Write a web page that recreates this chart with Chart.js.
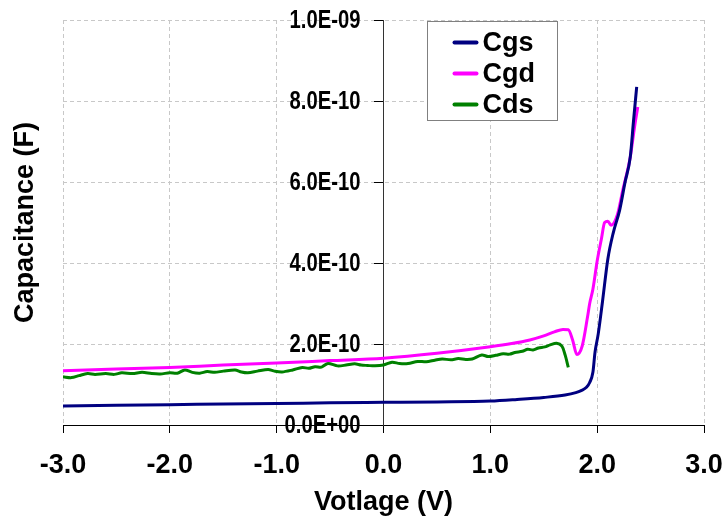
<!DOCTYPE html>
<html lang="en">
<head>
    <meta charset="UTF-8">
    <title>Capacitance vs Voltage</title>
    <script src="https://cdn.jsdelivr.net/npm/chart.js"></script>
    <style>
        html, body { margin: 0; padding: 0; background: #fff; }
        #wrap { width: 722px; height: 525px; }
    </style>
</head>
<body>
    <div id="wrap"><canvas id="myChart" width="722" height="525"></canvas></div>
    <script>
        // values are in units of 1e-10 F
        const UNIT = 1e-10;

        const cgsVolts = [-3.0, -2.5, -2.0, -1.5, -1.0, -0.5, 0.0, 0.5, 1.0, 1.25, 1.5, 1.7, 1.8, 1.85, 1.9, 1.93,
            1.96, 1.98, 2.01, 2.05, 2.10, 2.15, 2.21, 2.26, 2.31, 2.34, 2.37];
        const cgsValues = [0.47, 0.49, 0.50, 0.52, 0.53, 0.55, 0.56, 0.57, 0.59, 0.63, 0.68, 0.74, 0.80, 0.85, 0.93, 1.05,
            1.30, 1.80, 2.25, 3.05, 4.10, 4.74, 5.30, 5.98, 6.62, 7.50, 8.35];

        const cgdVolts = [-3.0, -2.5, -2.0, -1.5, -1.0, -0.5, 0.0, 0.5, 1.0, 1.2, 1.37, 1.5, 1.6, 1.68, 1.73, 1.77,
            1.81, 1.86, 1.91, 1.93, 1.96, 2.0, 2.04, 2.07, 2.1, 2.13, 2.19, 2.24, 2.31, 2.35, 2.38];
        const cgdValues = [1.34, 1.38, 1.42, 1.48, 1.53, 1.59, 1.65, 1.77, 1.93, 2.01, 2.10, 2.20, 2.30, 2.36, 2.35, 2.10,
            1.74, 1.95, 2.67, 3.00, 3.35, 4.05, 4.60, 5.00, 5.03, 4.93, 5.20, 5.80, 6.62, 7.36, 7.85];

        const cdsVolts = [-3.0, -2.92, -2.85, -2.77, -2.7, -2.6, -2.52, -2.45, -2.35, -2.26, -2.17, -2.09, -2.0, -1.93,
            -1.86, -1.79, -1.72, -1.65, -1.58, -1.5, -1.39, -1.33, -1.27, -1.18, -1.08, -1.02, -0.95, -0.85, -0.76,
            -0.7, -0.64, -0.58, -0.52, -0.43, -0.35, -0.27, -0.21, -0.15, -0.08, 0.0, 0.08, 0.15, 0.23, 0.32, 0.4,
            0.48, 0.55, 0.63, 0.7, 0.77, 0.83, 0.92, 0.98, 1.05, 1.12, 1.18, 1.23, 1.3, 1.35, 1.4, 1.45, 1.51, 1.56,
            1.62, 1.67, 1.7, 1.73];
        const cdsValues = [1.19, 1.17, 1.22, 1.27, 1.25, 1.27, 1.25, 1.29, 1.27, 1.30, 1.27, 1.26, 1.29, 1.28,
            1.36, 1.30, 1.28, 1.32, 1.30, 1.33, 1.36, 1.31, 1.29, 1.33, 1.37, 1.33, 1.31, 1.36, 1.42,
            1.40, 1.44, 1.43, 1.52, 1.46, 1.48, 1.51, 1.48, 1.47, 1.46, 1.48, 1.55, 1.52, 1.52, 1.57, 1.56,
            1.60, 1.63, 1.61, 1.64, 1.62, 1.63, 1.73, 1.69, 1.72, 1.76, 1.75, 1.79, 1.82, 1.87, 1.85, 1.90, 1.93, 1.98,
            2.02, 1.95, 1.73, 1.42];

        const seriesNames = ['Cgs', 'Cgd', 'Cds'];
        const seriesColors = ['#000080', '#ff00ff', '#008000'];
        const xTicks = [-3, -2, -1, 0, 1, 2, 3];
        const yTicks = [0, 2, 4, 6, 8, 10];

        const FONT = '"Liberation Sans", Arial, sans-serif';

        function toPoints(xs, ys) {
            return xs.map((x, i) => ({ x: x, y: ys[i] * UNIT }));
        }

        function sciLabel(v) {
            if (Math.abs(v) < 1e-15) return '0.0E+00';
            const parts = Number(v).toExponential(1).split('e');
            const exp = parseInt(parts[1], 10);
            const sign = exp < 0 ? '-' : '+';
            return parts[0] + 'E' + sign + String(Math.abs(exp)).padStart(2, '0');
        }

        // y tick labels sit left of the axis crossing at x = 0, in a condensed bold face
        const yAxisLabels = {
            id: 'yAxisLabels',
            afterDraw(chart) {
                const ctx = chart.ctx;
                const ys = chart.scales.y;
                const axisX = chart.scales.x.getPixelForValue(0);
                ctx.save();
                ctx.font = 'bold 25px ' + FONT;
                ctx.fillStyle = '#000';
                ctx.textAlign = 'right';
                ctx.textBaseline = 'middle';
                ys.ticks.forEach(t => {
                    const y = ys.getPixelForValue(t.value);
                    ctx.save();
                    ctx.translate(axisX - 23, y + 1);
                    ctx.scale(0.81, 1);
                    ctx.fillText(sciLabel(t.value), 0, 0);
                    ctx.restore();
                });
                ctx.restore();
            }
        };

        // legend box drawn inside the plot, over the grid
        const boxLegend = {
            id: 'boxLegend',
            afterDraw(chart) {
                const ctx = chart.ctx;
                const area = chart.chartArea;
                const left = area.left + 364.5, top = area.top + 1.5, w = 130, h = 99;
                ctx.save();
                ctx.fillStyle = '#ffffff';
                ctx.fillRect(left, top, w, h);
                ctx.strokeStyle = '#808080';
                ctx.lineWidth = 1;
                ctx.strokeRect(left, top, w, h);
                ctx.font = 'bold 27px ' + FONT;
                ctx.textBaseline = 'middle';
                ctx.fillStyle = '#000';
                chart.data.datasets.forEach((ds, i) => {
                    const y = top + 21 + i * 31;
                    ctx.strokeStyle = ds.borderColor;
                    ctx.lineWidth = 4;
                    ctx.lineCap = 'round';
                    ctx.beginPath();
                    ctx.moveTo(left + 27, y);
                    ctx.lineTo(left + 49, y);
                    ctx.stroke();
                    ctx.fillText(ds.label, left + 55, y + 1);
                });
                ctx.restore();
            }
        };

        const gridColor = '#c8c8c8';
        const ctx = document.getElementById('myChart').getContext('2d');
        const chart = new Chart(ctx, {
            type: 'line',
            data: {
                datasets: [
                    { label: seriesNames[0], data: toPoints(cgsVolts, cgsValues), borderColor: seriesColors[0],
                      cubicInterpolationMode: 'monotone' },
                    { label: seriesNames[1], data: toPoints(cgdVolts, cgdValues), borderColor: seriesColors[1],
                      cubicInterpolationMode: 'monotone' },
                    { label: seriesNames[2], data: toPoints(cdsVolts, cdsValues), borderColor: seriesColors[2],
                      tension: 0.3 }
                ]
            },
            options: {
                responsive: false,
                animation: false,
                devicePixelRatio: 1,
                layout: { padding: { left: 5, right: 18, top: 20, bottom: 0 } },
                elements: {
                    point: { radius: 0 },
                    line: { borderWidth: 3, fill: false }
                },
                plugins: {
                    legend: { display: false },
                    tooltip: { enabled: false }
                },
                scales: {
                    x: {
                        type: 'linear',
                        position: 'bottom',
                        min: -3, max: 3,
                        afterBuildTicks: s => { s.ticks = xTicks.map(v => ({ value: v })); },
                        afterFit: s => { s.height = 100; s.paddingLeft = 0; s.paddingRight = 0; },
                        ticks: {
                            callback: v => Number(v).toFixed(1),
                            font: { family: FONT, size: 27, weight: 'bold' },
                            color: '#000',
                            padding: 16,
                            maxRotation: 0
                        },
                        grid: {
                            color: gridColor,
                            tickColor: '#000',
                            tickBorderDash: [],
                            tickLength: 8,
                            tickWidth: 1
                        },
                        border: { display: true, color: '#000', width: 1, dash: [4, 3] },
                        title: {
                            display: true,
                            text: 'Votlage (V)',
                            color: '#000',
                            font: { family: FONT, size: 27, weight: 'bold' },
                            padding: { top: 0, bottom: 6 }
                        }
                    },
                    y: {
                        type: 'linear',
                        position: { x: 0 },
                        min: 0, max: 1e-9,
                        afterBuildTicks: s => { s.ticks = yTicks.map(v => ({ value: v * UNIT })); },
                        afterFit: s => { s.paddingTop = 0; s.paddingBottom = 0; },
                        ticks: { display: false },
                        grid: {
                            color: gridColor,
                            tickColor: '#000',
                            tickBorderDash: [],
                            tickLength: 9,
                            tickWidth: 1
                        },
                        border: { display: true, color: '#333', width: 1, dash: [4, 3] }
                    },
                    yTitle: {
                        type: 'linear',
                        position: 'left',
                        afterFit: s => { s.width = 58; s.paddingTop = 0; s.paddingBottom = 0; },
                        ticks: { display: false },
                        grid: { display: false, drawTicks: false },
                        border: { display: false },
                        title: {
                            display: true,
                            text: 'Capacitance (F)',
                            color: '#000',
                            font: { family: FONT, size: 27, weight: 'bold' },
                            padding: { top: 4, bottom: 4 }
                        }
                    }
                }
            },
            plugins: [yAxisLabels, boxLegend]
        });
    </script>
</body>
</html>
